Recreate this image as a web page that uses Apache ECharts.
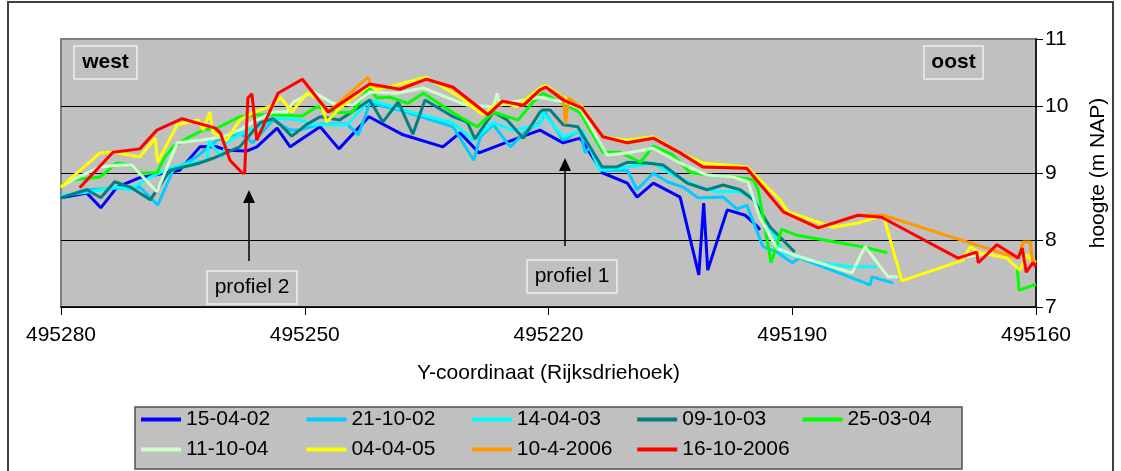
<!DOCTYPE html>
<html><head><meta charset="utf-8">
<script src="https://cdn.jsdelivr.net/npm/echarts@6/dist/echarts.min.js"></script>
<style>html,body{margin:0;padding:0;background:#fff}#c{width:1121px;height:471px}</style>
</head><body><div id="c"></div>
<script>
const FONT = '"Liberation Sans", Arial, sans-serif';
const seriesNames = ['15-04-02','21-10-02','14-04-03','09-10-03','25-03-04','11-10-04','04-04-05','10-4-2006','16-10-2006'];
const seriesColors = ['#0000FF','#00CCFF','#00FFFF','#008080','#00FF00','#CCFFCC','#FFFF00','#FF9900','#FF0000'];

const d150402 = [[495280,8.63],[495276.8,8.70],[495275.1,8.48],[495273.1,8.79],[495270.3,8.93],[495265.4,9.04],[495262.9,9.39],[495260.8,9.39],[495259.6,9.34],[495257.1,9.33],[495255.9,9.39],[495253.4,9.67],[495251.8,9.39],[495250.6,9.49],[495248.1,9.69],[495245.8,9.36],[495242.1,9.84],[495237.9,9.57],[495233.0,9.39],[495230.9,9.60],[495228.55,9.30],[495226.0,9.42],[495222.65,9.57],[495221.05,9.64],[495218.2,9.45],[495216.1,9.52],[495214.9,9.30],[495213.3,9.00],[495210.3,8.85],[495209.1,8.64],[495207.1,8.85],[495203.8,8.64],[495201.5,7.48],[495200.9,8.55],[495200.4,7.55],[495198.0,8.45],[495195.8,8.37],[495194.2,8.19],[495194.0,8.15]];
const d211002 = [[495280,8.64],[495276.8,8.75],[495270.3,8.79],[495268.1,8.52],[495266.2,9.04],[495263.3,9.24],[495260.8,9.49],[495258.0,9.60],[495256.4,9.45],[495253.9,9.79],[495251.8,9.64],[495250.6,9.64],[495248.1,9.73],[495244.8,9.73],[495243.4,9.57],[495242.0,10.04],[495238.3,9.94],[495231.75,9.69],[495229.2,9.19],[495228.4,9.54],[495226.8,9.72],[495224.7,9.39],[495222.65,9.64],[495221.05,9.75],[495220.4,9.90],[495218.2,9.49],[495216.1,9.64],[495215.5,9.30],[495214.9,9.39],[495213.3,9.04],[495210.3,9.04],[495209.1,8.75],[495207.1,9.00],[495205.4,8.87],[495203.45,8.79],[495201.6,8.63],[495198.5,8.64],[495196.8,8.46],[495195.6,8.52],[495193.6,7.90],[495191.9,7.82],[495190.0,7.66],[495189.05,7.73],[495180.4,7.33],[495180.2,7.45],[495177.6,7.36]];
const d140403 = [[495280,8.66],[495276.4,8.72],[495273.1,8.79],[495271.5,8.75],[495269.0,8.94],[495266.2,9.09],[495262.0,9.19],[495261.8,9.49],[495261.3,9.39],[495260.2,9.24],[495259.6,9.45],[495257.1,9.64],[495255.5,9.69],[495253.9,9.82],[495250.6,9.79],[495249.0,9.72],[495244.8,9.72],[495242.0,10.09],[495236.7,9.90],[495231.75,9.75],[495229.3,9.49],[495226.8,9.75],[495224.4,9.64],[495221.05,9.72],[495220.7,9.90],[495219.45,9.72],[495218.2,9.54],[495215.9,9.64],[495213.7,9.04],[495210.3,9.09],[495207.1,9.15],[495204.7,8.97],[495201.35,8.79],[495199.3,8.72],[495196.4,8.72],[495194.8,8.64],[495191.1,7.81],[495189.4,7.75],[495186.6,7.66],[495182.9,7.60],[495179.6,7.60]];
const d091003 = [[495280,8.63],[495276.8,8.75],[495275.1,8.63],[495273.4,8.87],[495271.5,8.79],[495269.0,8.60],[495266.6,9.04],[495262.9,9.15],[495261.3,9.22],[495258.0,9.39],[495255.5,9.75],[495253.9,9.81],[495253.0,9.72],[495251.6,9.55],[495249.7,9.73],[495248.1,9.84],[495245.7,9.79],[495242.0,10.09],[495240.4,9.76],[495238.5,10.06],[495236.7,9.58],[495235.2,10.09],[495231.75,9.84],[495230.0,9.76],[495229.05,9.51],[495226.8,9.91],[495225.1,9.79],[495223.1,9.52],[495221.05,9.91],[495220.7,9.94],[495219.8,9.94],[495218.2,9.72],[495216.4,9.69],[495213.4,9.09],[495211.6,9.09],[495210.3,9.16],[495207.9,9.15],[495205.9,9.12],[495202.95,8.85],[495200.5,8.75],[495198.5,8.82],[495196.4,8.75],[495194.8,8.60],[495192.7,8.19],[495189.7,7.82]];
const d250304 = [[495280,8.82],[495278.5,8.90],[495275.2,8.94],[495273.1,9.15],[495271.5,9.12],[495270.3,9.00],[495268.2,9.00],[495267.2,9.24],[495266.2,9.39],[495264.5,9.52],[495262.5,9.64],[495260.8,9.67],[495258.0,9.84],[495255.5,9.87],[495253.9,9.87],[495250.3,9.85],[495248.5,9.99],[495247.3,9.94],[495245.7,9.90],[495244.1,9.91],[495242.1,10.27],[495241.1,10.12],[495239.5,10.13],[495237.3,10.04],[495235.4,10.19],[495231.75,9.90],[495228.8,9.69],[495226.8,9.91],[495223.75,9.79],[495221.9,10.06],[495220.7,10.19],[495218.2,10.04],[495216.1,9.90],[495213.3,9.31],[495211.2,9.31],[495208.7,9.16],[495207.1,9.40],[495204.7,9.27],[495202.6,9.01],[495200.5,8.97],[495197.3,8.94],[495194.8,8.90],[495194.2,8.75],[495192.6,7.66],[495191.3,8.16],[495189.4,8.07],[495181.4,7.90],[495178.3,7.81],[495170,null],[495162.3,7.60],[495162.1,7.25],[495160.9,7.30],[495160.0,7.34]];
const d111004 = [[495280,8.79],[495278.5,8.90],[495275.2,9.09],[495272.7,9.12],[495271.3,9.12],[495268.2,8.72],[495265.7,9.45],[495262.9,9.49],[495260.1,9.54],[495258.0,9.64],[495256.4,9.76],[495253.9,9.91],[495252.2,9.91],[495251.4,10.06],[495249.0,10.21],[495246.5,10.04],[495244.1,10.01],[495242.0,10.21],[495238.6,10.19],[495235.4,10.27],[495231.75,10.09],[495230.0,10.01],[495226.8,9.99],[495226.3,10.19],[495226.0,10.01],[495224.4,10.06],[495221.05,10.13],[495218.2,10.06],[495216.1,9.97],[495212.8,9.27],[495210.3,9.30],[495207.1,9.37],[495203.8,9.15],[495200.5,8.97],[495197.3,8.94],[495195.45,8.87],[495194.0,8.34],[495191.9,7.88],[495189.9,7.78],[495182.65,7.51],[495181.05,7.90],[495178.2,7.45],[495177.0,7.45],[495172,null],[495168.5,7.75],[495165.3,7.81]];
const d040405 = [[495280,8.79],[495275.2,9.30],[495273.6,9.31],[495270.3,9.24],[495268.4,9.52],[495268.1,9.16],[495265.7,9.72],[495263.1,9.79],[495262.5,9.64],[495261.7,9.91],[495261.3,9.60],[495259.6,9.49],[495258.0,9.79],[495256.4,9.90],[495253.9,10.01],[495253.0,10.13],[495251.6,9.91],[495249.7,10.19],[495248.1,10.09],[495247.3,9.76],[495245.7,9.97],[495242.0,10.31],[495241.1,10.24],[495235.0,10.43],[495230.9,10.13],[495228.1,9.87],[495226.0,10.06],[495223.9,9.99],[495221.05,10.27],[495220.4,10.31],[495218.2,10.13],[495215.9,9.99],[495213.3,9.54],[495210.3,9.49],[495207.1,9.54],[495203.8,9.30],[495201.0,9.15],[495195.6,9.09],[495191.5,8.60],[495190.5,8.42],[495185.0,8.19],[495182.0,8.25],[495178.8,8.37],[495176.5,7.39],[495169.0,7.70],[495168.1,7.90],[495166.9,7.81],[495163.6,7.73],[495162.0,7.55],[495161.1,7.78],[495160.4,7.66]];
const d100406 = [[495250.3,10.40],[495247.1,9.91],[495242.2,10.43],[495241.8,10.31],[495238.3,10.25],[495235.0,10.40],[495231.75,10.28],[495227.45,9.87],[495225.7,10.07],[495223.1,10.01],[495221.05,10.24],[495220.3,10.28],[495218.2,10.12],[495217.9,9.73],[495217.5,10.12],[495215.9,9.97],[495213.3,9.54],[495210.3,9.45],[495207.1,9.52],[495203.8,9.30],[495201.0,9.09],[495195.6,9.07],[495191.1,8.42],[495186.8,8.18],[495181.9,8.37],[495178.8,8.37],[495162.2,7.73],[495161.6,7.97],[495160.7,7.97],[495160.4,7.63],[495160.0,7.70]];
const d161006 = [[495277.7,8.78],[495273.6,9.31],[495270.3,9.36],[495268.2,9.64],[495265.1,9.81],[495261.0,9.67],[495260.4,9.60],[495259.2,9.19],[495257.7,9.00],[495257.4,9.00],[495257.0,10.12],[495256.5,10.18],[495255.9,9.49],[495253.3,10.19],[495250.3,10.40],[495247.1,9.91],[495242.0,10.33],[495238.3,10.25],[495235.0,10.40],[495231.75,10.28],[495227.45,9.87],[495225.7,10.07],[495223.1,10.01],[495221.05,10.24],[495220.3,10.28],[495218.2,10.09],[495215.9,9.97],[495213.3,9.54],[495210.3,9.45],[495207.1,9.52],[495203.8,9.30],[495201.0,9.09],[495195.6,9.07],[495191.1,8.42],[495186.8,8.18],[495181.9,8.37],[495179.0,8.34],[495169.6,7.73],[495167.3,7.82],[495167.1,7.66],[495164.8,7.93],[495162.2,7.73],[495161.7,7.88],[495161.2,7.52],[495160.4,7.66],[495160.0,7.60]];
const seriesData = [d150402,d211002,d140403,d091003,d250304,d111004,d040405,d100406,d161006];

const xAxisName = 'Y-coordinaat (Rijksdriehoek)';
const yAxisName = 'hoogte (m NAP)';

const chart = echarts.init(document.getElementById('c'), null, {renderer:'canvas'});

const legends = seriesNames.map((n,i)=>({
  data:[n], orient:'horizontal',
  left: 141 + (i%5)*165.4, top: 409 + Math.floor(i/5)*30,
  icon:'rect', itemWidth:40, itemHeight:4, itemGap:0, itemTextGap:5, padding:0,
  selectedMode:false,
  textStyle:{color:'#000', fontSize:21, fontFamily:FONT}
}));

function arrow(x, yTip, yBottom){
  return [
    {type:'line', shape:{x1:x,y1:yTip+10,x2:x,y2:yBottom}, style:{stroke:'#000',lineWidth:1.5}, z:100},
    {type:'polygon', shape:{points:[[x,yTip],[x-6,yTip+13],[x+6,yTip+13]]}, style:{fill:'#000'}, z:100}
  ];
}
function box(x,y,w,h,txt,bold){
  return [
    {type:'rect', shape:{x:x,y:y,width:w,height:h}, style:{fill:'#C0C0C0',stroke:'#EDEDED',lineWidth:1.5}, z:100},
    {type:'text', x:x+w/2, y:y+h/2, style:{text:txt, font:(bold?'bold ':'')+'21px '+FONT, fill:'#000', align:'center', verticalAlign:'middle'}, z:101}
  ];
}

const option = {
  animation:false,
  backgroundColor:'#fff',
  grid:{left:61, right:85, top:39, bottom:164, show:true, backgroundColor:'#C0C0C0', borderColor:'#808080', borderWidth:2},
  xAxis:{type:'value', min:495160, max:495280, interval:30, inverse:true,
    axisLine:{show:true, onZero:false, lineStyle:{color:'#000', width:1.5}},
    axisTick:{show:true, length:8, lineStyle:{color:'#000'}},
    axisLabel:{color:'#000', fontSize:21, fontFamily:FONT, margin:18, formatter:v=>String(v)},
    splitLine:{show:false},
    name:xAxisName, nameLocation:'middle', nameGap:56,
    nameTextStyle:{color:'#000', fontSize:21, fontFamily:FONT}
  },
  yAxis:{type:'value', position:'right', min:7, max:11, interval:1,
    axisLine:{show:true, lineStyle:{color:'#000', width:1.5}},
    axisTick:{show:true, length:7, lineStyle:{color:'#000'}},
    axisLabel:{color:'#000', fontSize:21, fontFamily:FONT, margin:9, formatter:v=>String(v)},
    splitLine:{show:true, lineStyle:{color:['#000','#000','#000','#000','#808080'], width:1.2}},
    name:yAxisName, nameLocation:'middle', nameGap:52,
    nameTextStyle:{color:'#000', fontSize:21, fontFamily:FONT}
  },
  legend:legends,
  series: seriesNames.map((n,i)=>({
    name:n, type:'line', data:seriesData[i], symbol:'none', showSymbol:false,
    connectNulls:false, smooth:false, color:seriesColors[i],
    lineStyle:{color:seriesColors[i], width:3}, z:2+i
  })),
  graphic:[
    {type:'rect', shape:{x:8,y:2,width:1105,height:480}, style:{fill:'none',stroke:'#404040',lineWidth:2}, z:-1, silent:true},
    {type:'rect', shape:{x:135,y:407,width:827,height:62}, style:{fill:'#C0C0C0',stroke:'#505050',lineWidth:1.5}, z:-1, silent:true},
    ...box(74,46,63,33,'west',true),
    ...box(924,46,59,33,'oost',true),
    ...box(207,271,90,33,'profiel 2',false),
    ...box(527,260,90,33,'profiel 1',false),
    ...arrow(249,190,261),
    ...arrow(565,158,246)
  ]
};
chart.setOption(option);
</script>
</body></html>
